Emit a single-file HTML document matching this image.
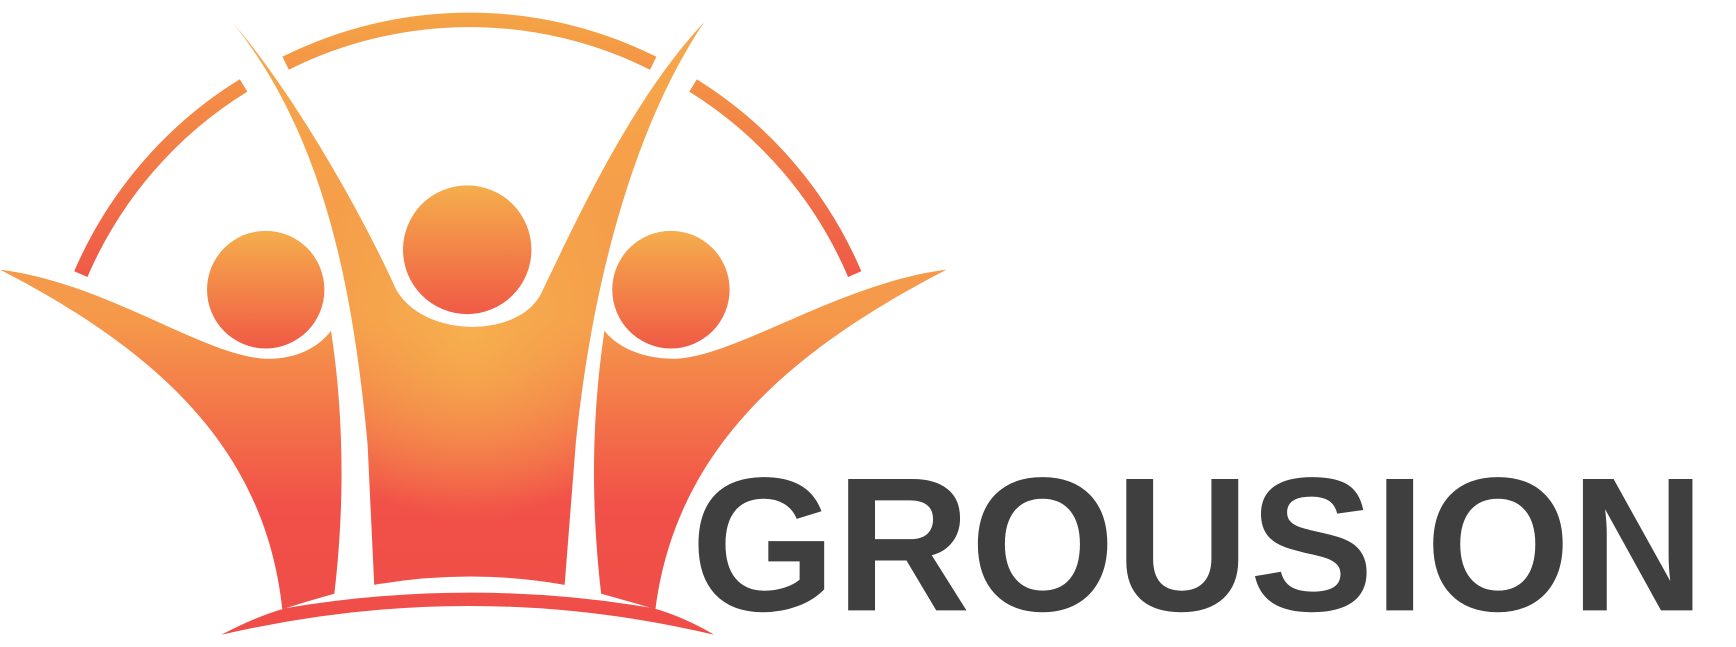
<!DOCTYPE html>
<html><head><meta charset="utf-8"><style>
html,body{margin:0;padding:0;background:#fff;width:1736px;height:647px;overflow:hidden}
svg{display:block}
</style></head><body>
<svg width="1736" height="647" viewBox="0 0 1568 583" preserveAspectRatio="none">
<defs>
<linearGradient id="body" gradientUnits="userSpaceOnUse" x1="0" y1="0" x2="0" y2="583">
<stop offset="0" stop-color="#f6a84a"/><stop offset="0.5" stop-color="#f5984a"/><stop offset="0.78" stop-color="#f15148"/><stop offset="1" stop-color="#ef4c48"/></linearGradient>
<radialGradient id="glow" gradientUnits="userSpaceOnUse" cx="425" cy="300" r="170"><stop offset="0" stop-color="#f6b24e" stop-opacity="0.9"/><stop offset="1" stop-color="#f6b24e" stop-opacity="0"/></radialGradient>
<linearGradient id="head" x1="0" y1="0" x2="0" y2="1"><stop offset="0" stop-color="#f5ae4c"/><stop offset="1" stop-color="#f05a45"/></linearGradient>
<linearGradient id="arc" gradientUnits="userSpaceOnUse" x1="0" y1="0" x2="0" y2="260"><stop offset="0" stop-color="#f5a845"/><stop offset="1" stop-color="#ef5648"/></linearGradient>
<clipPath id="cclip"><path d="M210,20 C270,90 330,200 355,255 C375,305 470,308 490,262 C520,200 570,90 636,20 C575,110 535,250 520,400 L510,527 Q425,512 338,527 L332,400 C318,250 290,120 210,20 Z"/></clipPath>
</defs>
<g fill="none" stroke="url(#arc)" stroke-width="13">
<path d="M258,57 A372,372 0 0 1 590,57"/>
<path d="M73,247 A372,372 0 0 1 220,77"/>
<path d="M626,77 A372,372 0 0 1 772,247"/>
</g>
<g fill="url(#body)">
<path d="M210,20 C270,90 330,200 355,255 C375,305 470,308 490,262 C520,200 570,90 636,20 C575,110 535,250 520,400 L510,527 Q425,512 338,527 L332,400 C318,250 290,120 210,20 Z"/>
<path d="M0,243 C95,255 180,318 236,323 C265,325 287,314 299,298 C310,370 312,450 302,535 Q280,541 255,549 C240,410 150,320 0,243 Z"/>
<path d="M855,243 C760,255 670,318 614,323 C585,325 558,314 546,298 C535,370 533,450 543,535 Q565,541 592,549 C610,410 705,320 855,243 Z"/>
<path d="M200,572 Q230,556 258,548 Q425,520 590,548 Q618,556 645,572 Q425,520 200,572 Z"/>
</g>
<rect x="200" y="0" width="450" height="583" fill="url(#glow)" clip-path="url(#cclip)"/>
<circle cx="422" cy="225" r="58" fill="url(#head)"/>
<circle cx="240" cy="261" r="53" fill="url(#head)"/>
<circle cx="606" cy="261" r="53" fill="url(#head)"/>
<text x="624" y="550" font-family="Liberation Sans, sans-serif" font-weight="bold" font-size="172" fill="#3f3f3f" textLength="916" lengthAdjust="spacingAndGlyphs">GROUSION</text>
</svg>
</body></html>
